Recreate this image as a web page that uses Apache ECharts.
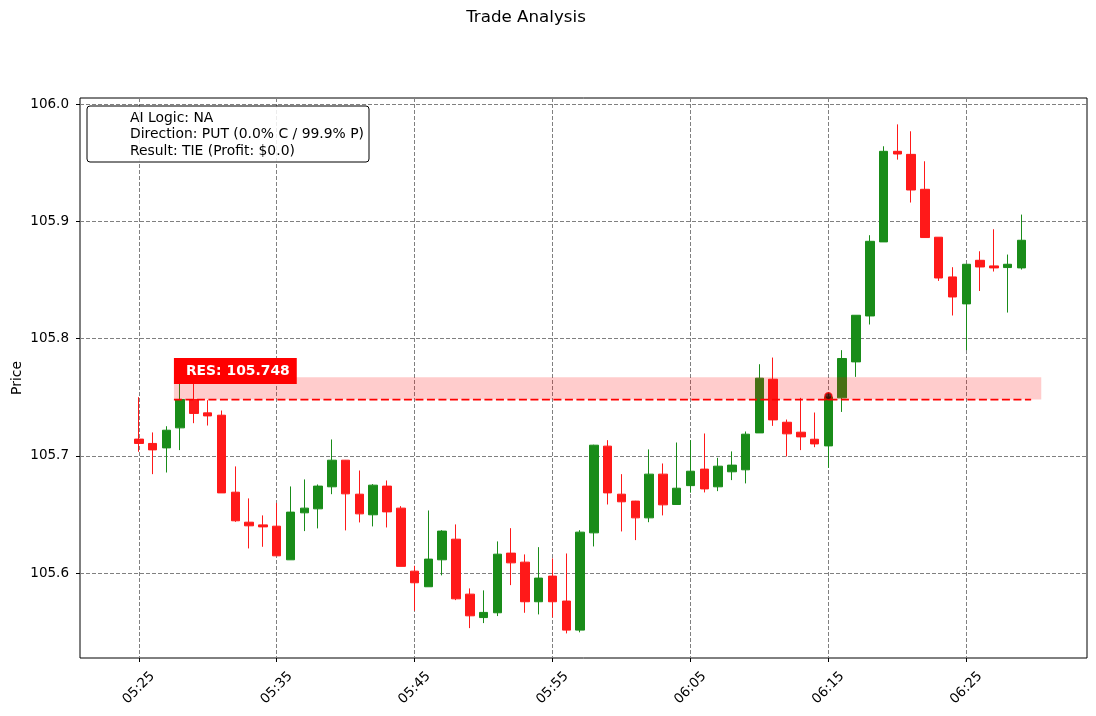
<!DOCTYPE html>
<html>
<head>
<meta charset="utf-8">
<script src="https://cdn.jsdelivr.net/npm/echarts@6/dist/echarts.min.js"></script>
<style>
html,body{margin:0;padding:0;background:#fff;}
#chart{width:1096px;height:716px;}
</style>
</head>
<body>
<div id="chart"></div>
<script>
var times = ['05:25','05:26','05:27','05:28','05:29','05:30','05:31','05:32','05:33','05:34',
'05:35','05:36','05:37','05:38','05:39','05:40','05:41','05:42','05:43','05:44',
'05:45','05:46','05:47','05:48','05:49','05:50','05:51','05:52','05:53','05:54',
'05:55','05:56','05:57','05:58','05:59','06:00','06:01','06:02','06:03','06:04',
'06:05','06:06','06:07','06:08','06:09','06:10','06:11','06:12','06:13','06:14',
'06:15','06:16','06:17','06:18','06:19','06:20','06:21','06:22','06:23','06:24',
'06:25','06:26','06:27','06:28','06:29'];
var opens = [105.7143,105.7106,105.7068,105.7239,105.7481,105.7367,105.7347,105.6690,105.6434,105.6411,
105.6400,105.6113,105.6514,105.6548,105.6736,105.6963,105.6673,105.6497,105.6742,105.6554,
105.6016,105.5883,105.6113,105.6289,105.5820,105.5620,105.5661,105.6170,105.6093,105.5755,
105.5974,105.5761,105.5513,105.6343,105.7083,105.6673,105.6614,105.6471,105.6844,105.6585,
105.6746,105.6887,105.6736,105.6864,105.6881,105.7196,105.7654,105.7287,105.7202,105.7142,
105.7085,105.7495,105.7802,105.8194,105.8826,105.9599,105.9573,105.9275,105.8866,105.8527,
105.8297,105.8669,105.8621,105.8607,105.8604];
var closes = [105.7106,105.7051,105.7219,105.7481,105.7362,105.7341,105.6684,105.6446,105.6403,105.6394,
105.6147,105.6520,105.6554,105.6742,105.6963,105.6676,105.6505,105.6750,105.6522,105.6057,
105.5917,105.6119,105.6358,105.5780,105.5635,105.5664,105.6161,105.6087,105.5755,105.5957,
105.5755,105.5513,105.6349,105.7091,105.6684,105.6608,105.6471,105.6844,105.6582,105.6724,
105.6869,105.6718,105.6912,105.6921,105.7185,105.7663,105.7307,105.7188,105.7162,105.7102,
105.7503,105.7831,105.8200,105.8831,105.9599,105.9576,105.9269,105.8863,105.8518,105.8356,
105.8635,105.8612,105.8604,105.8635,105.8840];
var lows = [105.7035,105.6844,105.6858,105.7049,105.7279,105.7259,105.6684,105.6437,105.6210,105.6224,
105.6147,105.6113,105.6358,105.6381,105.6673,105.6364,105.6432,105.6398,105.6389,105.6057,
105.5678,105.5883,105.5980,105.5769,105.5530,105.5573,105.5633,105.5897,105.5661,105.5647,
105.5622,105.5485,105.5494,105.6227,105.6585,105.6355,105.6281,105.6434,105.6492,105.6585,
105.6686,105.6688,105.6699,105.6793,105.6765,105.7196,105.7256,105.6995,105.7049,105.7074,
105.6898,105.7375,105.7674,105.8121,105.8826,105.9528,105.9162,105.8863,105.8493,105.8198,
105.7902,105.8407,105.8573,105.8223,105.8590];
var highs = [105.7501,105.7200,105.7253,105.7646,105.7620,105.7475,105.7387,105.6910,105.6637,105.6492,
105.6597,105.6739,105.6799,105.6756,105.7140,105.6965,105.6875,105.6759,105.6790,105.6571,
105.6062,105.6534,105.6366,105.6415,105.5869,105.5852,105.6270,105.6383,105.6159,105.6221,
105.6125,105.6167,105.6366,105.7095,105.7134,105.6844,105.6616,105.7055,105.6935,105.7114,
105.7134,105.7191,105.6983,105.7038,105.7208,105.7782,105.7839,105.7310,105.7495,105.7370,
105.7543,105.7902,105.8200,105.8883,105.9642,105.9829,105.9770,105.9514,105.8866,105.8610,
105.8635,105.8746,105.8934,105.8718,105.9059];
var xTickLabels = ['05:25','05:35','05:45','05:55','06:05','06:15','06:25'];
var yTickValues = [105.6, 105.7, 105.8, 105.9, 106.0];
var resistance = 105.748;
var resBandTop = 105.767;
var resStart = '05:27:33';
var resLineEnd = '06:29:42';
var resBandEnd = '06:30:26';
var entryTime = '06:15';
var entryPrice = 105.7509;
var infoLines = ['AI Logic: NA', 'Direction: PUT (0.0% C / 99.9% P)', 'Result: TIE (Profit: $0.0)'];

function toMin(t){ var p=t.split(':'); return +p[0]*60 + +p[1] + (p[2]? +p[2]/60 : 0); }
function fmt(v){ var h=Math.floor(v/60), m=Math.round(v-h*60); return (h<10?'0':'')+h+':'+(m<10?'0':'')+m; }

var candleData = times.map(function(t,i){ return [toMin(t), opens[i], closes[i], lows[i], highs[i]]; });
var xTicks = xTickLabels.map(toMin);

var green = '#198c19', red = '#ff1919';
var FONT = 'DejaVu Sans';

var chart = echarts.init(document.getElementById('chart'), null, {renderer:'canvas'});
chart.setOption({
  animation:false,
  backgroundColor:'#fff',
  grid:{left:80, right:9, top:98, bottom:58, show:true, borderColor:'#000', borderWidth:1, backgroundColor:'transparent'},
  xAxis:{
    type:'value', min:320.74, max:393.75,
    axisLine:{show:false},
    axisTick:{show:true, length:4, lineStyle:{color:'#000'}, customValues:xTicks},
    axisLabel:{customValues:xTicks, formatter:function(v){return fmt(v);}, rotate:45, align:'center', verticalAlign:'middle', margin:30, color:'#000', fontFamily:FONT, fontSize:13.5},
    splitLine:{show:true, lineStyle:{color:'#808080', type:[4,2], width:1}}
  },
  yAxis:{
    type:'value', min:105.5275, max:106.0054, scale:true,
    axisLine:{show:false},
    axisTick:{show:true, length:4, lineStyle:{color:'#000'}, customValues:yTickValues},
    axisLabel:{customValues:yTickValues, formatter:function(v){return v.toFixed(1);}, margin:11, color:'#000', fontFamily:FONT, fontSize:13.5},
    splitLine:{show:true, lineStyle:{color:'#808080', type:[4,2], width:1}}
  },
  series:[
    {
      type:'candlestick', z:2,
      data:candleData,
      encode:{x:0, y:[1,2,3,4]},
      barWidth:9,
      itemStyle:{color:green, color0:red, borderColor:green, borderColor0:red, borderWidth:1}
    },
    {
      type:'custom', z:5, silent:true,
      data:[[toMin(resStart), resistance, toMin(resBandEnd), resBandTop]],
      renderItem:function(params, api){
        var p1 = api.coord([api.value(0), api.value(3)]);
        var p2 = api.coord([api.value(2), api.value(1)]);
        return {type:'rect', shape:{x:p1[0], y:p1[1], width:p2[0]-p1[0], height:p2[1]-p1[1]}, style:{fill:'rgba(255,0,0,0.2)'}};
      }
    },
    {
      type:'line', z:6, silent:true, symbol:'none',
      data:[[toMin(resStart), resistance],[toMin(resLineEnd), resistance]],
      lineStyle:{color:'#ff0000', width:1.8, type:[8,3.5]}
    },
    {
      type:'scatter', z:7, silent:true,
      data:[[toMin(entryTime), entryPrice]],
      symbol:'circle', symbolSize:7,
      itemStyle:{color:'#3a0000', borderColor:'#ff0000', borderWidth:1.5}
    },
    {
      type:'custom', z:9, silent:true,
      data:[[toMin(resStart), resistance]],
      renderItem:function(params, api){
        var p = api.coord([api.value(0), api.value(1)]);
        return {type:'text', x:p[0], y:p[1]-15.5, style:{
          text:'RES: ' + resistance.toFixed(3), fill:'#fff', font:'bold 13.9px "DejaVu Sans"',
          backgroundColor:'#ff0000', padding:[6,7,6,12], align:'left', verticalAlign:'bottom'}};
      }
    }
  ],
  graphic:[
    {type:'text', x:526, y:17.5, style:{text:'Trade Analysis', font:'16.7px "DejaVu Sans"', fill:'#000', align:'center', verticalAlign:'middle'}},
    {type:'text', x:17, y:378, rotation:Math.PI/2, style:{text:'Price', font:'13.9px "DejaVu Sans"', fill:'#000', align:'center', verticalAlign:'middle'}},
    {type:'rect', shape:{x:87, y:106, width:282, height:56, r:3}, style:{fill:'rgba(255,255,255,0.85)', stroke:'#000', lineWidth:1}, z:100},
    {type:'text', x:130, y:118, style:{text:infoLines[0], font:'13.9px "DejaVu Sans"', fill:'#000', verticalAlign:'middle'}, z:101},
    {type:'text', x:130, y:134.5, style:{text:infoLines[1], font:'13.9px "DejaVu Sans"', fill:'#000', verticalAlign:'middle'}, z:101},
    {type:'text', x:130, y:151, style:{text:infoLines[2], font:'13.9px "DejaVu Sans"', fill:'#000', verticalAlign:'middle'}, z:101}
  ]
});
</script>
</body>
</html>
